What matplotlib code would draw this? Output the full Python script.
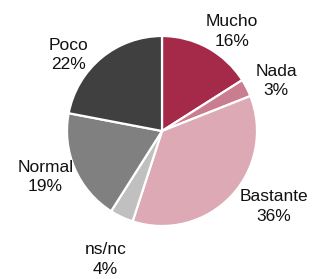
import numpy as np
import matplotlib
matplotlib.use("Agg")
import matplotlib.pyplot as plt

categories = ["Mucho", "Nada", "Bastante", "ns/nc", "Normal", "Poco"]
values = [16, 3, 36, 4, 19, 22]
colors = ["#A52A4A", "#C97D8F", "#DDA9B5", "#C0C0C0", "#808080", "#404040"]
# label placement (radius factor, angle in degrees)
label_polar = [(1.28, 55), (1.31, 23.7), (1.42, -34), (1.48, -113.8), (1.32, -158.5), (1.27, 141)]

W, H = 312, 279
cx, cy, R = 162, 131, 95

plt.rcParams['font.family'] = ['Liberation Sans', 'DejaVu Sans']
fig = plt.figure(figsize=(W / 100, H / 100), dpi=100)
ax = fig.add_axes([0, 0, 1, 1])
ax.pie(values, colors=colors, startangle=90, counterclock=False,
       wedgeprops=dict(edgecolor="white", linewidth=1.6))
ax.set_aspect('auto')
ax.set_xlim(-cx / R, (W - cx) / R)
ax.set_ylim(-(H - cy) / R, cy / R)
ax.axis('off')

for cat, v, (r, a) in zip(categories, values, label_polar):
    t = np.deg2rad(a)
    ax.text(r * np.cos(t), r * np.sin(t), f"{cat}\n{v}%", ha="center", va="center",
            fontsize=12.5, color="#111111", linespacing=1.4)

fig.savefig("out.png", dpi=100, facecolor="white")
